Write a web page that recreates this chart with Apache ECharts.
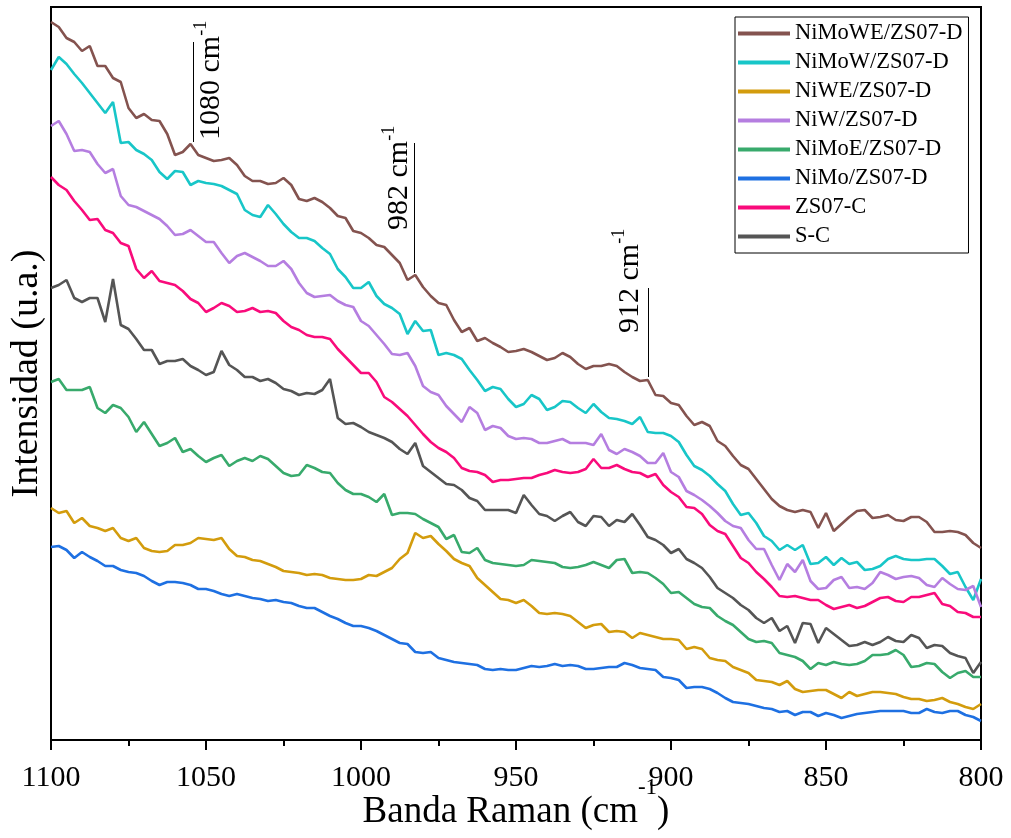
<!DOCTYPE html>
<html>
<head>
<meta charset="utf-8">
<script src="https://cdn.jsdelivr.net/npm/echarts@6/dist/echarts.min.js"></script>
<style>html,body{margin:0;padding:0;background:#fff}#c{width:1011px;height:838px}</style>
</head>
<body>
<div id="c"></div>
<script>
// Raman shift (cm-1)
const ramanShift = [1100,1097.5,1095,1092.5,1090,1087.5,1085,1082.5,1080,1077.5,1075,1072.5,1070,1067.5,1065,1062.5,1060,1057.5,1055,1052.5,1050,1047.5,1045,1042.5,1040,1037.5,1035,1032.5,1030,1027.5,1025,1022.5,1020,1017.5,1015,1012.5,1010,1007.5,1005,1002.5,1000,997.5,995,992.5,990,987.5,985,982.5,980,977.5,975,972.5,970,967.5,965,962.5,960,957.5,955,952.5,950,947.5,945,942.5,940,937.5,935,932.5,930,927.5,925,922.5,920,917.5,915,912.5,910,907.5,905,902.5,900,897.5,895,892.5,890,887.5,885,882.5,880,877.5,875,872.5,870,867.5,865,862.5,860,857.5,855,852.5,850,847.5,845,842.5,840,837.5,835,832.5,830,827.5,825,822.5,820,817.5,815,812.5,810,807.5,805,802.5,800];

// Intensities (u.a.)
const niMoWE = [718,713,702,698,689,694,674,674,662,658,632,622,626,620,619,606,585,588,596,585,582,579,580,582,575,564,559,559,556,557,562,555,541,539,542,538,532,524,522,509,507,502,495,493,485,477,460,465,453,444,437,435,420,408,412,399,402,397,393,388,389,391,388,384,380,382,387,383,376,371,374,374,376,374,368,363,359,360,345,344,337,335,324,315,318,314,299,294,284,275,271,261,251,241,234,230,228,230,228,212,227,209,216,223,229,230,222,223,225,220,219,223,223,218,208,208,209,208,205,197,192];
const niMoW = [670,683,676,666,657,647,637,627,638,597,598,590,586,580,568,561,569,568,555,559,557,556,554,550,546,530,525,523,535,526,516,508,502,502,499,492,486,471,463,452,452,458,444,436,432,426,406,419,409,410,385,387,385,381,370,360,349,353,351,341,333,336,345,341,330,333,339,338,332,327,336,328,322,321,319,316,323,308,307,307,304,298,285,274,270,264,256,249,236,225,227,217,204,199,190,195,190,195,176,177,183,175,182,176,178,170,171,174,181,184,181,180,180,181,181,174,166,168,153,140,161];
const niWE = [232,227,229,217,222,214,212,209,212,202,199,202,192,189,188,189,195,195,197,202,201,200,202,191,184,183,180,179,176,173,169,168,167,165,166,165,162,161,160,160,161,165,164,168,172,181,187,207,202,204,196,189,181,177,174,162,155,148,141,140,137,140,134,127,126,127,126,124,118,112,115,116,108,109,108,102,107,105,103,101,101,100,91,93,91,82,80,79,73,70,67,60,59,58,55,59,51,48,49,50,50,46,42,48,44,46,48,48,47,46,43,41,41,39,40,42,38,36,33,31,36];
const niW = [614,619,606,589,590,588,576,567,571,544,535,533,529,525,521,514,505,506,510,504,498,498,487,477,484,487,483,479,474,474,479,471,457,447,443,444,445,439,435,433,419,414,405,396,386,385,387,374,354,348,345,334,326,318,333,327,310,314,312,304,301,302,301,297,297,299,301,297,297,297,295,306,290,286,291,288,284,277,277,287,268,263,249,245,240,234,227,219,214,212,200,191,191,175,160,176,168,180,159,151,152,160,163,152,153,151,157,168,165,161,163,164,162,155,153,162,156,151,150,154,133];
const niMoE = [358,361,350,350,350,353,332,327,335,332,323,308,318,306,294,297,302,288,291,284,278,282,285,274,279,282,279,284,281,274,267,264,265,275,272,268,267,257,250,246,246,243,238,246,225,227,227,226,221,217,213,201,205,188,187,192,180,177,176,175,174,175,180,179,178,177,173,172,173,175,178,175,172,180,181,167,168,167,162,156,147,148,142,136,133,132,124,119,115,108,101,98,99,97,87,85,83,79,71,77,75,78,76,75,76,79,85,85,86,90,85,73,74,77,76,68,62,67,69,63,63];
const niMo = [193,194,190,182,188,183,179,174,174,170,168,167,164,159,155,158,158,157,155,151,151,149,146,144,146,144,142,141,139,140,138,137,134,132,132,128,124,121,117,114,114,112,109,105,101,97,96,88,87,88,82,80,78,77,76,75,71,70,71,70,70,72,74,73,74,76,74,75,74,71,71,72,73,73,77,75,72,71,70,63,62,60,52,53,53,51,47,42,38,37,36,34,32,31,28,29,25,28,28,24,27,25,22,24,26,27,28,29,29,29,29,27,27,31,28,27,29,29,25,23,19];
const zs07C = [563,555,550,539,530,520,521,510,507,497,494,471,462,469,459,457,455,449,441,437,428,432,437,434,428,429,432,428,429,427,419,413,410,405,403,403,401,391,383,375,367,367,358,343,338,331,324,315,306,298,292,288,282,272,269,268,265,258,260,260,261,262,262,265,267,270,268,267,268,271,281,272,272,275,271,268,267,263,266,255,248,243,233,232,226,215,209,206,194,182,177,168,161,153,144,143,144,142,140,140,135,131,133,135,132,134,138,142,143,139,138,143,143,145,147,136,134,128,127,123,123];
const sC = [452,455,460,442,438,442,442,418,461,415,411,401,390,390,376,379,379,381,374,370,365,368,389,375,370,363,363,359,361,357,351,349,345,347,346,350,361,322,316,317,313,308,305,302,298,291,286,297,274,268,262,256,255,250,242,239,230,230,230,230,227,245,235,226,224,219,224,228,218,214,224,223,214,220,218,226,215,203,200,195,187,191,181,177,172,163,152,147,142,135,130,122,117,122,109,114,97,117,116,97,112,106,100,94,95,98,95,98,103,99,98,105,102,92,95,94,87,84,82,67,78];

const seriesNames = ['NiMoWE/ZS07-D','NiMoW/ZS07-D','NiWE/ZS07-D','NiW/ZS07-D','NiMoE/ZS07-D','NiMo/ZS07-D','ZS07-C','S-C'];
const seriesValues = [niMoWE, niMoW, niWE, niW, niMoE, niMo, zs07C, sC];

// Band annotations (data units)
const annShift = [1054, 982.8, 907.5];
const annLabel = ['1080', '982', '912'];
const annLineTop = [698, 597, 452];
const annLineBottom = [598, 467, 363];
const annTextStart = [600, 510, 407];

// styles
const colors = ['#84534f','#18c6c8','#d39c0d','#b57ee0','#38aa6c','#1e70e2','#f90b7b','#555555'];
const annSide = [18, -15, -18];
const FONT = "'Liberation Serif','Times New Roman',serif";

const chart = echarts.init(document.getElementById('c'), null, {renderer:'canvas', width:1011, height:838});

const series = seriesNames.map((name, k) => {
  const s = {
    name: name,
    type: 'line',
    showSymbol: false,
    symbol: 'none',
    silent: true,
    color: colors[k],
    lineStyle: {color: colors[k], width: 2.6},
    itemStyle: {color: colors[k]},
    emphasis: {disabled: true},
    data: ramanShift.map((x, i) => [x, seriesValues[k][i]])
  };
  if (k === 0) {
    s.markLine = {
      silent: true,
      symbol: ['none','none'],
      label: {show: false},
      lineStyle: {color: '#000', width: 1, type: 'solid'},
      emphasis: {disabled: true},
      data: annShift.map((x, i) => [{coord: [x, annLineTop[i]]}, {coord: [x, annLineBottom[i]]}])
    };
  }
  return s;
});

chart.setOption({
  animation: false,
  backgroundColor: '#fff',
  grid: {left: 51, right: 30, top: 7, bottom: 98, show: true, borderColor: '#000', borderWidth: 2,
         backgroundColor: 'transparent', containLabel: false, outerBoundsMode: 'none'},
  xAxis: {
    type: 'value', min: 800, max: 1100, interval: 50, inverse: true,
    axisLine: {show: true, onZero: false, lineStyle: {color: '#000', width: 2}},
    axisTick: {show: true, inside: false, length: 10, lineStyle: {color: '#000', width: 2}},
    minorTick: {show: true, splitNumber: 2, length: 6, lineStyle: {color: '#000', width: 2}},
    splitLine: {show: false},
    minorSplitLine: {show: false},
    axisLabel: {color: '#000', fontFamily: FONT, fontSize: 30, margin: 23, formatter: v => String(v)},
    name: '{a|Banda Raman (cm}{b|-1}{a|)}',
    nameLocation: 'middle',
    nameGap: 36,
    nameMoveOverlap: false,
    nameTextStyle: {
      rich: {
        a: {fontFamily: FONT, fontSize: 37, color: '#000', lineHeight: 37, verticalAlign: 'bottom'},
        b: {fontFamily: FONT, fontSize: 23, color: '#000', lineHeight: 55, verticalAlign: 'top'}
      }
    }
  },
  yAxis: {
    type: 'value', min: 0, max: 733,
    axisLine: {show: true, onZero: false, lineStyle: {color: '#000', width: 2}},
    axisTick: {show: false}, axisLabel: {show: false}, splitLine: {show: false},
    name: 'Intensidad (u.a.)', nameLocation: 'middle', nameGap: 5, nameRotate: 90,
    nameMoveOverlap: false,
    nameTextStyle: {fontFamily: FONT, fontSize: 38, color: '#000'}
  },
  legend: {
    orient: 'vertical', left: 735, top: 17,
    padding: [5, 6, 5, 3],
    itemGap: 6, itemWidth: 52, itemHeight: 4, icon: 'rect',
    borderColor: '#000', borderWidth: 1, backgroundColor: '#fff',
    selectedMode: false,
    textStyle: {fontFamily: FONT, fontSize: 22.5, color: '#000'},
    data: seriesNames
  },
  series: series
});

// rotated band labels
const gfx = annShift.map((x, i) => {
  const p = chart.convertToPixel({gridIndex: 0}, [x, annTextStart[i]]);
  const centerX = p[0] + annSide[i];
  return {
    type: 'text',
    x: centerX - 19,
    y: p[1],
    rotation: Math.PI / 2,
    silent: true,
    style: {
      text: '{a|' + annLabel[i] + ' cm}{b|-1}',
      align: 'left', textAlign: 'left',
      verticalAlign: 'top', textVerticalAlign: 'top',
      fill: '#000',
      rich: {
        a: {fontFamily: FONT, fontSize: 30, fill: '#000', color: '#000', lineHeight: 30, verticalAlign: 'bottom'},
        b: {fontFamily: FONT, fontSize: 18, fill: '#000', color: '#000', lineHeight: 34, verticalAlign: 'top'}
      }
    }
  };
});
chart.setOption({graphic: gfx});
</script>
</body>
</html>
